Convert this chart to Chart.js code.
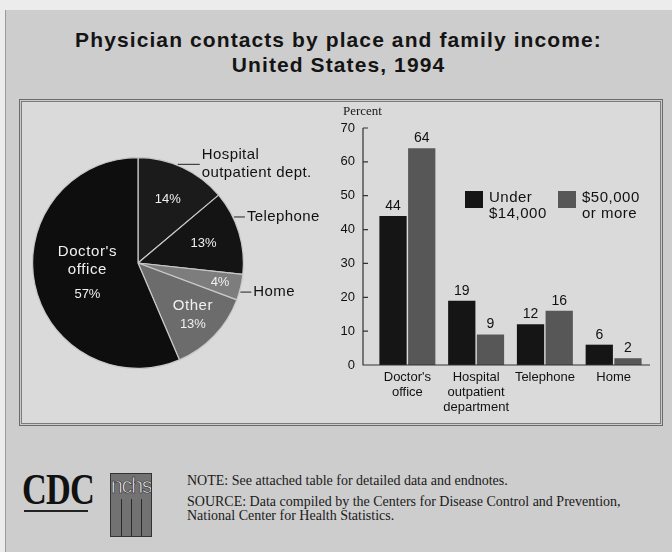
<!DOCTYPE html>
<html>
<head>
<meta charset="utf-8">
<script src="https://cdn.jsdelivr.net/npm/chart.js@4.4.0/dist/chart.umd.min.js"></script>
<style>
  html, body { margin:0; padding:0; }
  body { width:672px; height:552px; background:#ececec; position:relative; overflow:hidden; font-family:"Liberation Sans", Arial, sans-serif; }
  #page { position:absolute; left:5px; top:10px; width:667px; height:542px; background:#cdcdcd; border-left:1px solid #9a9a9a; box-sizing:border-box; }
  #title { position:absolute; left:5px; width:667px; top:27px; text-align:center; font-size:21px; line-height:25px; font-weight:bold; letter-spacing:1.1px; color:#141414; }
  #panel { position:absolute; left:19px; top:99px; width:644px; height:327px; box-sizing:border-box; background:#dadada; border:1px solid #6a6a6a; box-shadow: inset 0 0 0 1px #cbcbcb, inset 0 0 0 2px #7c7c7c; }
  canvas { position:absolute; }
  #pie { left:19px; top:100px; width:320px; height:325px; }
  #bar { left:330px; top:100px; width:333px; height:325px; }
  .note { position:absolute; left:187px; font-family:"Liberation Serif", "Times New Roman", serif; font-size:14px; line-height:14px; color:#1a1a1a; white-space:nowrap; }
  #cdc { position:absolute; left:22px; top:468px; font-family:"Liberation Serif", serif; font-weight:bold; font-size:44px; line-height:44px; color:#111; transform:scaleX(0.78); transform-origin:left top; letter-spacing:-1px; }
  #cdcline { position:absolute; left:24px; top:510px; width:64px; height:2px; background:#222; }
  #nchs { position:absolute; left:110px; top:473px; width:42px; height:64px; box-sizing:border-box; background:#727272; border:1px solid #333; overflow:hidden; }
  #nchs .t { position:absolute; left:-1px; top:0px; width:42px; text-align:center; font-family:"Liberation Sans", sans-serif; font-size:22px; line-height:24px; letter-spacing:-1.5px; color:#ececec; -webkit-text-stroke:0.6px #222; }
  #nchs .v { position:absolute; top:25px; bottom:0; width:1px; background:#2a2a2a; }
</style>
</head>
<body>
<div id="page"></div>
<div id="title">Physician contacts by place and family income:<br>United States, 1994</div>
<div id="panel"></div>
<canvas id="pie" width="320" height="325"></canvas>
<canvas id="bar" width="333" height="325"></canvas>

<div id="cdc">CDC</div>
<div id="cdcline"></div>
<div id="nchs"><div class="t">nchs</div><div class="v" style="left:10px"></div><div class="v" style="left:20px"></div><div class="v" style="left:30px"></div></div>
<div class="note" style="top:474px">NOTE: See attached table for detailed data and endnotes.</div>
<div class="note" style="top:495px">SOURCE: Data compiled by the Centers for Disease Control and Prevention,<br>National Center for Health Statistics.</div>

<script>
// ---------- Data ----------
const pieCategories = ["Hospital outpatient dept.", "Telephone", "Home", "Other", "Doctor's office"];
const pieNameLines = [["Hospital", "outpatient dept."], ["Telephone"], ["Home"], ["Other"], ["Doctor's", "office"]];
const piePercents = [14, 13, 4, 13, 57];

const barCategories = [["Doctor's", "office"], ["Hospital", "outpatient", "department"], "Telephone", "Home"];
const seriesNames = ["Under $14,000", "$50,000 or more"];
const legendLines = [["Under", "$14,000"], ["$50,000", "or more"]];
const under14k = [44, 19, 12, 6];
const over50k = [64, 9, 16, 2];
const yMin = 0, yMax = 70, yStep = 10;

// ---------- Styles ----------
const pieColors = ["#1b1b1b", "#141414", "#7d7d7d", "#6c6c6c", "#0e0e0e"];
const innerRadiusFrac = [0.67, 0.65, 0.8, 0.72, 0.49];
const nameInside = [false, false, false, true, true];
const pctGap = [0, 0, 0, 19, 25];
const outerAngleShift = [-3, -8.7, 2.5];
const leaderLen = [22, 11, 11];
const barColors = ["#151515", "#575757"];

const pieLabelPlugin = {
  id: 'pieLabels',
  afterDatasetsDraw(chart) {
    const ctx = chart.ctx;
    const meta = chart.getDatasetMeta(0);
    ctx.save();
    meta.data.forEach((arc, i) => {
      const p = arc.getProps(['x', 'y', 'startAngle', 'endAngle', 'outerRadius'], true);
      const mid = (p.startAngle + p.endAngle) / 2;
      const r = p.outerRadius * innerRadiusFrac[i];
      const cx = p.x + Math.cos(mid) * r, cy = p.y + Math.sin(mid) * r;
      const pct = piePercents[i] + '%';
      ctx.fillStyle = '#f0f0f0';
      ctx.textAlign = 'center';
      ctx.textBaseline = 'middle';
      if (nameInside[i]) {
        const names = pieNameLines[i];
        const total = (names.length - 1) * 18 + pctGap[i];
        let y = cy - total / 2;
        ctx.font = '15px "Liberation Sans"';
        ctx.letterSpacing = '0.6px';
        names.forEach(t => { ctx.fillText(t, cx, y); y += 18; });
        y += pctGap[i] - 18;
        ctx.font = '13px "Liberation Sans"';
        ctx.letterSpacing = '0px';
        ctx.fillText(pct, cx, y);
      } else {
        ctx.font = '13px "Liberation Sans"';
        ctx.letterSpacing = '0px';
        ctx.fillText(pct, cx, cy);
        const a = mid + outerAngleShift[i] * Math.PI / 180;
        const sx = p.x + Math.cos(a) * (p.outerRadius + 1);
        const sy = p.y + Math.sin(a) * (p.outerRadius + 1);
        const ex = sx + leaderLen[i];
        ctx.strokeStyle = '#222';
        ctx.lineWidth = 1;
        ctx.beginPath(); ctx.moveTo(sx, sy); ctx.lineTo(ex, sy); ctx.stroke();
        ctx.fillStyle = '#111';
        ctx.textAlign = 'left';
        ctx.font = '15px "Liberation Sans"';
        ctx.letterSpacing = '0.4px';
        const names = pieNameLines[i];
        let y = sy - (names.length - 1) * 18 / 2;
        names.forEach(t => { ctx.fillText(t, ex + 2, y); y += 18; });
      }
    });
    ctx.restore();
  }
};

new Chart(document.getElementById('pie'), {
  type: 'pie',
  data: {
    labels: pieCategories,
    datasets: [{ data: piePercents, backgroundColor: pieColors, borderColor: '#c8c8c8', borderWidth: 1.2 }]
  },
  options: {
    responsive: false,
    animation: false,
    layout: { padding: { left: 13, right: 95, top: 57, bottom: 56 } },
    plugins: { legend: { display: false }, tooltip: { enabled: false } }
  },
  plugins: [pieLabelPlugin]
});

const barDecor = {
  id: 'barDecor',
  afterDatasetsDraw(chart) {
    const { ctx, chartArea: ca, scales: { y } } = chart;
    ctx.save();
    ctx.fillStyle = '#111';
    ctx.textAlign = 'center';
    ctx.textBaseline = 'middle';
    ctx.font = '14px "Liberation Sans"';
    chart.data.datasets.forEach((ds, di) => {
      chart.getDatasetMeta(di).data.forEach((bar, i) => {
        ctx.fillText(String(ds.data[i]), bar.x, bar.y - 10);
      });
    });
    const ax = ca.left - 10;
    ctx.strokeStyle = '#333';
    ctx.lineWidth = 1.2;
    ctx.beginPath();
    ctx.moveTo(ax, y.getPixelForValue(y.max));
    ctx.lineTo(ax, ca.bottom);
    ctx.lineTo(ca.right + 2, ca.bottom);
    y.ticks.forEach(t => {
      const py = y.getPixelForValue(t.value);
      ctx.moveTo(ax, py);
      ctx.lineTo(ax + 5, py);
    });
    ctx.stroke();
    ctx.textAlign = 'left';
    ctx.font = '13px "Liberation Serif"';
    ctx.fillStyle = '#1a1a1a';
    ctx.fillText('Percent', 13, ca.top - 16);
    chart.data.datasets.forEach((ds, di) => {
      const lx = ca.left + (di === 0 ? 92 : 185);
      const ly = ca.top + 63;
      ctx.fillStyle = ds.backgroundColor;
      ctx.fillRect(lx, ly, 18, 17);
      ctx.fillStyle = '#111';
      ctx.font = '15px "Liberation Sans"';
      ctx.letterSpacing = '0.5px';
      legendLines[di].forEach((t, k) => ctx.fillText(t, lx + 24, ly + 7 + k * 16));
      ctx.letterSpacing = '0px';
    });
    ctx.restore();
  }
};

new Chart(document.getElementById('bar'), {
  type: 'bar',
  data: {
    labels: barCategories,
    datasets: [
      { label: seriesNames[0], data: under14k, backgroundColor: barColors[0], categoryPercentage: 0.835, barPercentage: 0.95 },
      { label: seriesNames[1], data: over50k, backgroundColor: barColors[1], categoryPercentage: 0.835, barPercentage: 0.95 }
    ]
  },
  options: {
    responsive: false,
    animation: false,
    layout: { padding: { left: 0, right: 15, top: 28, bottom: 0 } },
    plugins: { legend: { display: false }, tooltip: { enabled: false } },
    scales: {
      x: {
        grid: { display: false, drawTicks: false },
        border: { display: false },
        ticks: { color: '#111', font: { family: 'Liberation Sans', size: 13, lineHeight: 1.15 }, padding: 5, maxRotation: 0, autoSkip: false },
        afterFit(s) { s.height = 60; }
      },
      y: {
        min: yMin, max: yMax,
        grid: { display: false, drawTicks: false },
        border: { display: false },
        ticks: { stepSize: yStep, color: '#111', font: { family: 'Liberation Sans', size: 13 }, padding: 18 },
        afterFit(s) { s.width = 43; }
      }
    }
  },
  plugins: [barDecor]
});
</script>
</body>
</html>
